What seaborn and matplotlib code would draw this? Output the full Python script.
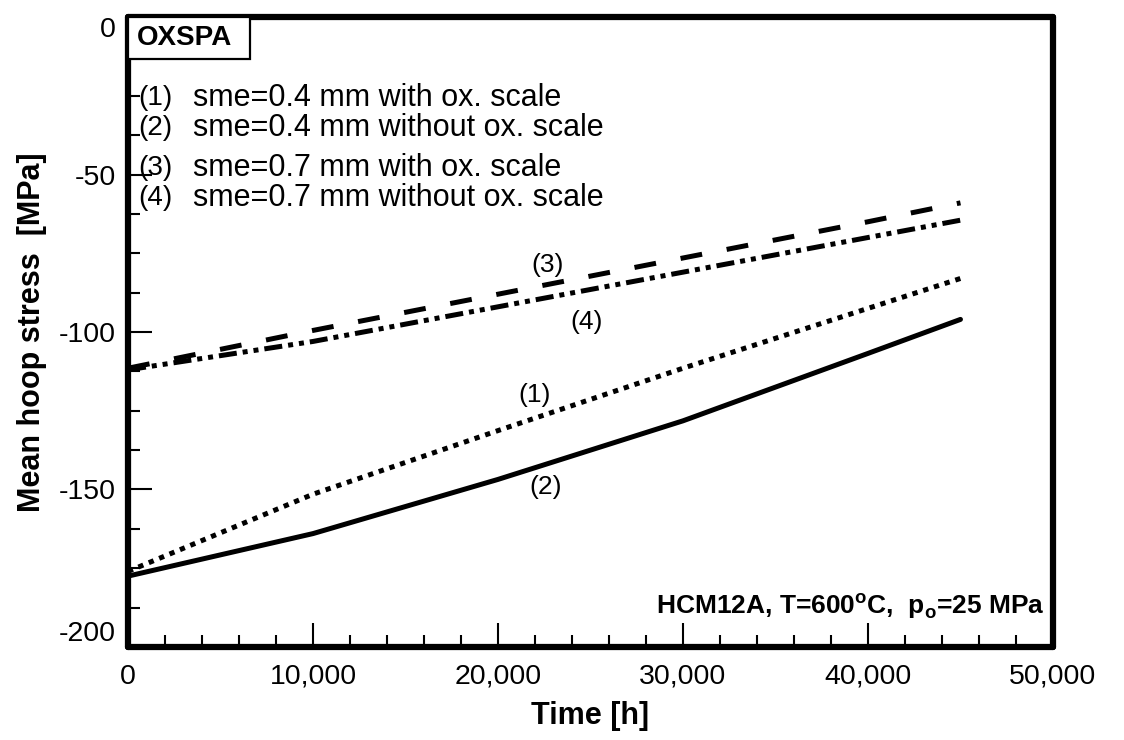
import matplotlib
matplotlib.use("Agg")
import matplotlib.pyplot as plt
import matplotlib.ticker as mticker
from matplotlib.patches import Rectangle
import numpy as np
import pandas as pd
import seaborn as sns

# Operating time [h] at which the mean hoop stress is reported
time_h = [0, 10000, 20000, 30000, 40000, 45000]

# Mean hoop stress [MPa] for the four cases
s1_04_with_ox = [-176.0, -151.5, -131.3, -111.5, -92.5, -83.0]
s2_04_without_ox = [-177.5, -164.0, -146.8, -128.2, -106.8, -96.0]
s3_07_with_ox = [-111.5, -99.5, -88.0, -76.5, -65.0, -59.0]
s4_07_without_ox = [-112.0, -103.0, -92.0, -81.0, -70.0, -64.5]

case_ids = ["(1)", "(2)", "(3)", "(4)"]
case_texts = [
    "sme=0.4 mm with ox. scale",
    "sme=0.4 mm without ox. scale",
    "sme=0.7 mm with ox. scale",
    "sme=0.7 mm without ox. scale",
]

x_ticks = [0, 10000, 20000, 30000, 40000, 50000]
y_ticks = [0, -50, -100, -150, -200]

sns.set_style("ticks")
plt.rcParams["font.family"] = ["Liberation Sans", "DejaVu Sans"]
plt.rcParams["mathtext.fontset"] = "custom"
plt.rcParams["mathtext.rm"] = "Liberation Sans"
plt.rcParams["mathtext.bf"] = "Liberation Sans:bold"
plt.rcParams["lines.scale_dashes"] = False
plt.rcParams["text.color"] = "black"
plt.rcParams["axes.labelcolor"] = "black"
plt.rcParams["xtick.color"] = "black"
plt.rcParams["ytick.color"] = "black"

fig = plt.figure(figsize=(11.24, 7.40), dpi=100)
ax = fig.add_axes([0.1139, 0.1257, 0.8229, 0.8513])

series = [s1_04_with_ox, s2_04_without_ox, s3_07_with_ox, s4_07_without_ox]
lw = 3.6
styles = [
    dict(linestyle=(0, (3.8, 4.3)), dash_capstyle="butt"),
    dict(linestyle="-", solid_capstyle="round"),
    dict(linestyle=(0, (15.8, 18.0)), dash_capstyle="butt"),
    dict(linestyle=(0, (13.0, 4.3, 3.6, 4.3, 3.6, 4.3)), dash_capstyle="butt"),
]
for vals, st in zip(series, styles):
    df = pd.DataFrame({"t": time_h, "s": vals})
    sns.lineplot(data=df, x="t", y="s", ax=ax, color="black", lw=lw,
                 estimator=None, sort=False, **st)

ax.set_xlim(0, 50000)
ax.set_ylim(-200, 0)
ax.set_xticks(x_ticks)
ax.set_yticks(y_ticks)
ax.xaxis.set_major_formatter(mticker.FuncFormatter(lambda v, p: f"{int(v):,}"))
ax.yaxis.set_major_formatter(mticker.FuncFormatter(lambda v, p: f"{int(v)}"))
ax.xaxis.set_minor_locator(mticker.MultipleLocator(2000))
ax.yaxis.set_minor_locator(mticker.MultipleLocator(12.5))
ax.tick_params(axis="both", which="major", direction="in", length=17, width=1.5,
               labelsize=20.5, color="black", labelcolor="black")
ax.tick_params(axis="both", which="minor", direction="in", length=8.6, width=1.5,
               color="black")
ax.tick_params(axis="y", which="major", pad=9)
ax.tick_params(axis="x", which="major", pad=12)
ax.tick_params(top=False, right=False, which="both")

for side in ["left", "bottom", "top", "right"]:
    ax.spines[side].set_visible(True)
    ax.spines[side].set_color("black")
    ax.spines[side].set_linewidth(4.5)
    ax.spines[side].set_capstyle("round")

ax.set_xlabel("Time [h]", fontsize=22, fontweight="bold", labelpad=8)
ax.set_ylabel("Mean hoop stress  [MPa]", fontsize=22, fontweight="bold", labelpad=8)

# End labels of the stress axis sit inside the axis extent
fig.canvas.draw()
ylabels = ax.get_yticklabels()
ylabels[0].set_verticalalignment("top")      # 0
ylabels[-1].set_verticalalignment("bottom")  # -200

# Program name box in the upper-left corner
ax.add_patch(Rectangle((0, 0.933), 0.132, 0.067, transform=ax.transAxes,
                       facecolor="white", edgecolor="black", lw=1.6, zorder=3))
ax.text(0.0097, 0.966, "OXSPA", transform=ax.transAxes, fontsize=20,
        fontweight="bold", ha="left", va="center", zorder=4)

# Case key
key_y = [-25.7, -35.2, -47.9, -57.5]
for cid, txt, yy in zip(case_ids, case_texts, key_y):
    ax.text(540, yy, cid, fontsize=20, ha="left", va="center")
    ax.text(3500, yy, txt, fontsize=22, ha="left", va="center")

# Curve labels
curve_label_pos = [(22000, -120.0), (22600, -149.2), (22700, -78.7), (24800, -96.8)]
for cid, (xx, yy) in zip(case_ids, curve_label_pos):
    ax.text(xx, yy, cid, fontsize=19, ha="center", va="center")

ax.text(0.991, 0.065, r"HCM12A, T=600$^\mathbf{o}$C,  p$_\mathbf{o}$=25 MPa",
        transform=ax.transAxes, fontsize=19, fontweight="bold",
        ha="right", va="center")

fig.savefig("out.png", dpi=100)
